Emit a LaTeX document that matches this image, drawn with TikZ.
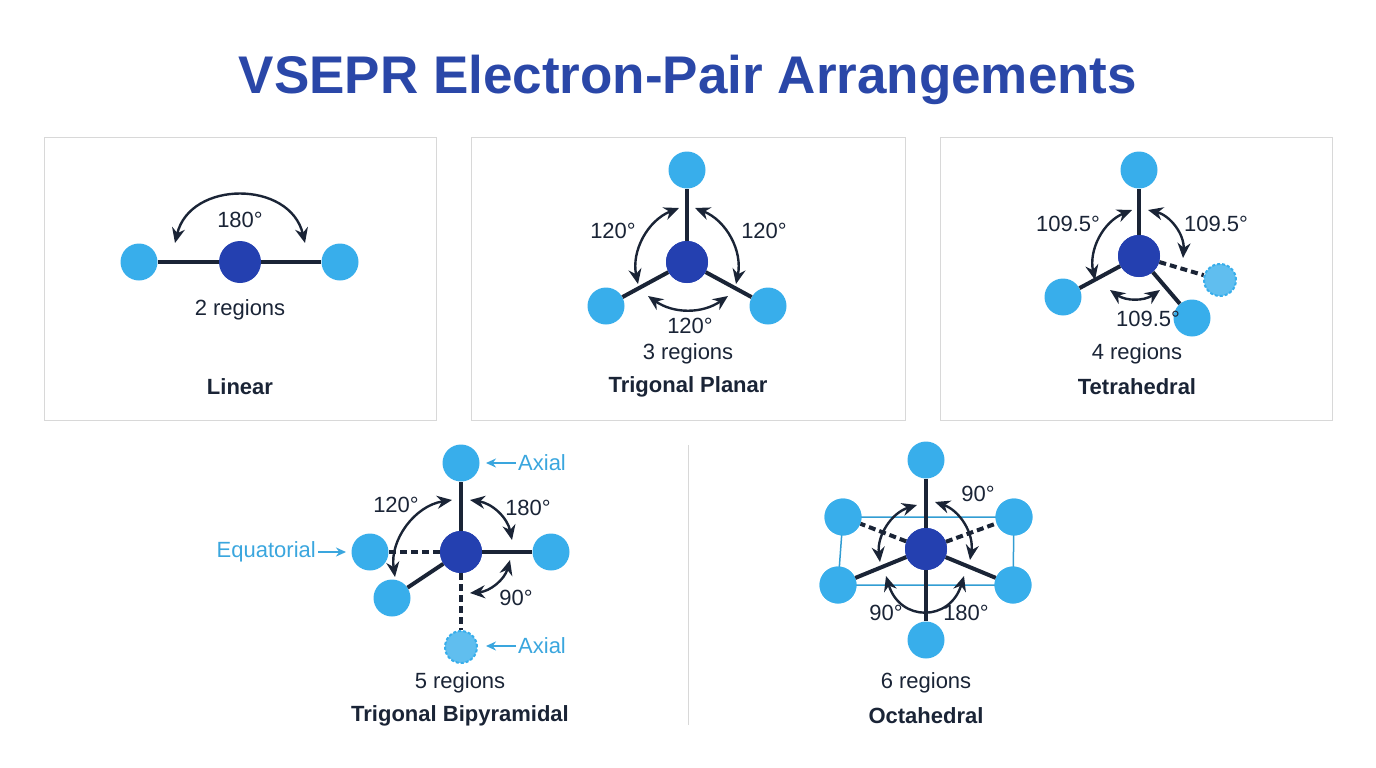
\documentclass[tikz,border=0pt]{standalone}
\usepackage{fontspec}
\setmainfont{Liberation Sans}
\usetikzlibrary{positioning,arrows.meta}
\definecolor{titleblue}{HTML}{2A47A8}
\definecolor{core}{HTML}{2440B0}
\definecolor{lig}{HTML}{38AEEB}
\definecolor{ink}{HTML}{1A2436}
\definecolor{note}{HTML}{3AA6DE}
\definecolor{frame}{HTML}{D8D8D8}
\tikzset{
  atom/.style={circle, fill=core, minimum size=42pt, inner sep=0pt},
  ligand/.style={circle, fill=lig, minimum size=37pt, inner sep=0pt},
  lone/.style={circle, fill=lig!80, draw=lig, line width=2pt, dash pattern=on 3pt off 2pt, minimum size=32pt, inner sep=0pt},
  bond/.style={ink, line width=4pt},
  wedge/.style={ink, line width=4pt, dash pattern=on 7pt off 4pt},
  angarc/.style={ink, line width=2.4pt, {Stealth[length=15pt,width=13pt]}-{Stealth[length=15pt,width=13pt]}},
  pointer/.style={note, line width=2.2pt, -{Stealth[length=10pt,width=9pt]}},
  lbl/.style={text=ink, font=\fontsize{22}{26}\selectfont},
  geomname/.style={text=ink, font=\fontsize{22}{26}\selectfont\bfseries},
  tag/.style={text=note, font=\fontsize{22}{26}\selectfont, inner sep=2pt},
  panel/.style={draw=frame, line width=1pt}
}
\begin{document}
\begin{tikzpicture}[x=1pt,y=-1pt]
    \useasboundingbox (0,0) rectangle (1376,768);
    \node[text=titleblue, font=\fontsize{53}{60}\selectfont\bfseries] (title) at (688,80) {VSEPR Electron-Pair Arrangements};

    % Panels
    \draw[panel] (44,137) rectangle (436,420);
    \draw[panel] (471,137) rectangle (905,420);
    \draw[panel] (940,137) rectangle (1332,420);
    \draw[frame, line width=1pt] (688,445) -- (688,725);

    % Linear
    \node[ligand] (la) at (139,262) {};
    \node[ligand] (lb) at (340,262) {};
    \draw[bond] (la) -- (lb);
    \node[atom] (lc) at (240,262) {};
    \draw[angarc] (175,243) .. controls (190,180) and (290,180) .. (305,243);
    \node[lbl] at (240,220) {180°};
    \node[lbl] at (240,310) {2 regions};
    \node[geomname] at (240,387) {Linear};

    % Trigonal planar
    \node[ligand] (ta) at (687,170) {};
    \node[ligand] (tb) at (606,306) {};
    \node[ligand] (tc) at (768,306) {};
    \node[atom] (tcen) at (687,262) {};
    \foreach \l in {ta,tb,tc} \draw[bond] (tcen) -- (\l);
    \node[atom] at (tcen) {};
    \draw[angarc] (679,208) to[bend right=40] (638,284);
    \draw[angarc] (695,208) to[bend left=40] (736,284);
    \draw[angarc] (648,296) to[bend right=35] (728,296);
    \node[lbl] at (613,231) {120°};
    \node[lbl] at (764,231) {120°};
    \node[lbl] at (690,326) {120°};
    \node[lbl] at (688,354) {3 regions};
    \node[geomname] at (688,387) {Trigonal Planar};

    % Tetrahedral
    \node[ligand] (ea) at (1139,170) {};
    \node[ligand] (eb) at (1063,297) {};
    \node[ligand] (ec) at (1192,318) {};
    \node[lone] (ed) at (1220,280) {};
    \node[atom] (ecen) at (1139,256) {};
    \foreach \l in {ea,eb,ec} \draw[bond] (ecen) -- (\l);
    \draw[wedge] (ecen) -- (ed);
    \node[atom] at (ecen) {};
    \draw[angarc] (1132,210) to[bend right=40] (1095,280);
    \draw[angarc] (1148,210) to[bend left=40] (1183,258);
    \draw[angarc] (1110,290) to[bend right=35] (1160,290);
    \node[lbl] at (1068,224) {109.5°};
    \node[lbl] at (1216,224) {109.5°};
    \node[lbl] at (1148,319) {109.5°};
    \node[lbl] at (1137,354) {4 regions};
    \node[geomname] at (1137,387) {Tetrahedral};

    % Trigonal bipyramidal
    \node[ligand] (ba) at (461,463) {};
    \node[ligand] (bb) at (551,552) {};
    \node[ligand] (bc) at (370,552) {};
    \node[ligand] (bd) at (392,598) {};
    \node[lone] (be) at (461,647) {};
    \node[atom] (bcen) at (461,552) {};
    \draw[bond] (bcen) -- (ba);
    \draw[bond] (bcen) -- (bb);
    \draw[bond] (bcen) -- (bd);
    \draw[wedge] (bcen) -- (bc);
    \draw[wedge] (bcen) -- (be);
    \node[atom] at (bcen) {};
    \draw[angarc] (452,500) to[bend right=45] (395,577);
    \draw[angarc] (470,500) to[bend left=35] (512,540);
    \draw[angarc] (470,593) to[bend right=35] (510,560);
    \node[lbl] at (396,505) {120°};
    \node[lbl] at (528,508) {180°};
    \node[lbl] at (516,598) {90°};
    \node[tag, anchor=west] (ax1) at (516,463) {Axial};
    \node[tag, anchor=west] (ax2) at (516,646) {Axial};
    \node[tag, anchor=east] (eq) at (318,552) {Equatorial};
    \draw[pointer] (ax1.west) -- ++(-30,0);
    \draw[pointer] (ax2.west) -- ++(-30,0);
    \draw[pointer] (eq.east) -- ++(28,0);
    \node[lbl] at (460,683) {5 regions};
    \node[geomname] at (460,716) {Trigonal Bipyramidal};

    % Octahedral
    \node[ligand] (oa) at (926,460) {};
    \node[ligand] (ob) at (926,640) {};
    \node[ligand] (oc) at (843,517) {};
    \node[ligand] (od) at (1014,517) {};
    \node[ligand] (oe) at (838,585) {};
    \node[ligand] (of) at (1013,585) {};
    \draw[lig!90!black, line width=1.5pt] (oc.center) -- (od.center) -- (of.center) -- (oe.center) -- cycle;
    \node[ligand] at (oc) {};
    \node[ligand] at (od) {};
    \node[ligand] at (oe) {};
    \node[ligand] at (of) {};
    \node[atom] (ocen) at (926,549) {};
    \draw[bond] (oa) -- (ob);
    \draw[bond] (ocen) -- (oe);
    \draw[bond] (ocen) -- (of);
    \draw[wedge] (ocen) -- (oc);
    \draw[wedge] (ocen) -- (od);
    \node[atom] at (ocen) {};
    \draw[angarc] (917,505) to[bend right=40] (880,562);
    \draw[angarc] (935,502) to[bend left=40] (970,560);
    \draw[angarc] (886,576) .. controls (900,622) and (950,622) .. (964,576);
    \node[lbl] at (978,494) {90°};
    \node[lbl] at (886,613) {90°};
    \node[lbl] at (966,613) {180°};
    \node[lbl] at (926,683) {6 regions};
    \node[geomname] at (926,716) {Octahedral};
\end{tikzpicture}
\end{document}
